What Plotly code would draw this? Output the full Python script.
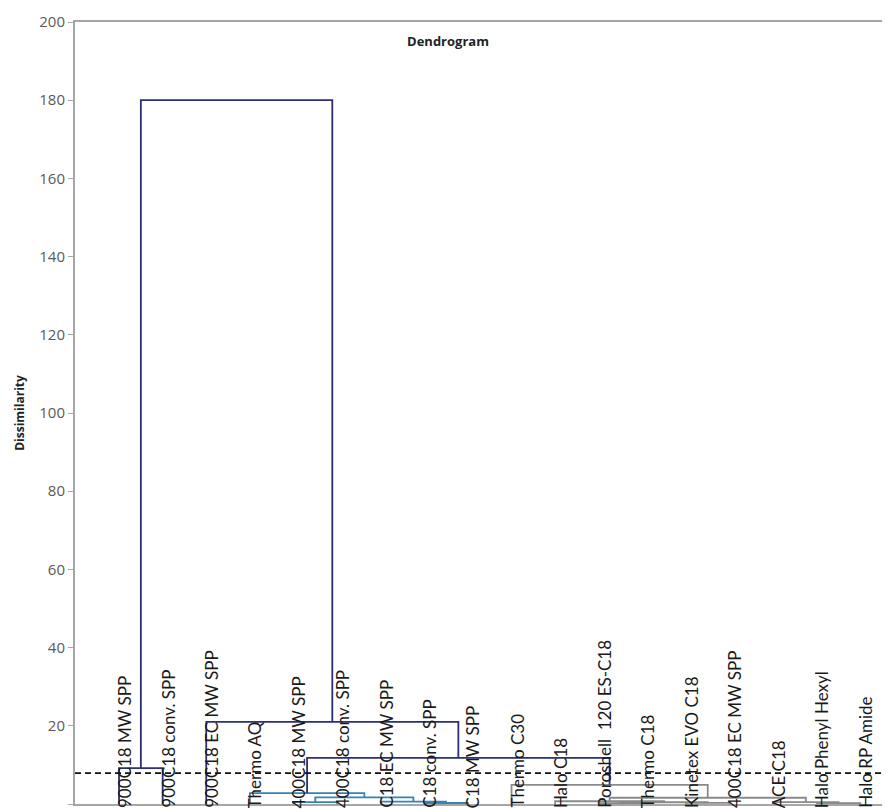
import plotly.graph_objects as go

# ---- data ----
leaf_labels = [
    "900C18 MW SPP", "900C18 conv. SPP", "900C18 EC MW SPP", "Thermo AQ",
    "400C18 MW SPP", "400C18 conv. SPP", "C18 EC MW SPP", "C18 conv. SPP",
    "C18 MW SPP", "Thermo C30", "Halo C18", "Poroshell  120 ES-C18",
    "Thermo C18", "Kinetex EVO C18", "400C18 EC MW SPP", "ACE C18",
    "Halo Phenyl Hexyl", "Halo RP Amide",
]
# merges (scipy-like): child ids < 18 are leaves, id 18+k is merge row k
merge_left = [4, 7, 6, 18, 3, 11, 13, 23, 10, 16, 15, 26, 9, 22, 2, 0, 33]
merge_right = [5, 8, 19, 20, 21, 12, 14, 24, 25, 17, 27, 28, 29, 30, 31, 1, 32]
merge_height = [0.5, 0.25, 0.6, 1.7, 2.8, 0.2, 0.3, 0.45, 0.7, 0.2, 0.5, 1.6, 4.9,
                11.8, 21.0, 9.2, 180.0]
merge_group = ["teal", "teal", "teal", "teal", "teal",
               "gray", "gray", "gray", "gray", "gray", "gray", "gray", "gray",
               "top", "top", "top", "top"]
cut_level = 7.9
y_ticks = [0, 20, 40, 60, 80, 100, 120, 140, 160, 180, 200]

colors = {"teal": "#3584b6", "gray": "#8a8a8a", "top": "#2b2f76"}

n = len(leaf_labels)
xpos = {i: float(i) for i in range(n)}
ypos = {i: 0.0 for i in range(n)}

fig = go.Figure()
for k, (a, b, h, g) in enumerate(zip(merge_left, merge_right, merge_height, merge_group)):
    xa, xb = xpos[a], xpos[b]
    fig.add_trace(go.Scatter(x=[xa, xa, xb, xb], y=[ypos[a], h, h, ypos[b]], mode="lines",
                             line=dict(color=colors[g], width=1.8),
                             hoverinfo="skip", showlegend=False))
    xpos[n + k] = (xa + xb) / 2
    ypos[n + k] = h

x_range = [-1.01, 17.68]
fig.add_trace(go.Scatter(x=x_range, y=[cut_level, cut_level], mode="lines",
                         line=dict(color="#111111", width=1.8, dash="6px,4px"),
                         hoverinfo="skip", showlegend=False))

for i, lab in enumerate(leaf_labels):
    fig.add_annotation(x=i, y=0, xref="x", yref="y", text=lab, showarrow=False,
                       textangle=-90, xanchor="center", yanchor="bottom",
                       xshift=5, yshift=-6,
                       font=dict(family="Lato", size=17, color="#1a1a1a"))

fig.update_layout(
    width=882, height=801,
    margin=dict(l=67, r=0, t=14, b=5),
    paper_bgcolor="white", plot_bgcolor="white",
    title=dict(text="<b>Dendrogram</b>", x=440 / 882, xref="container", xanchor="center",
               y=1 - 33 / 801, yref="container", yanchor="middle",
               font=dict(family="Open Sans", size=13, color="#222222")),
    xaxis=dict(range=x_range, showgrid=False, zeroline=False,
               showticklabels=False, ticks="", showline=True, mirror=True,
               linecolor="#a6a6a6", linewidth=2),
    yaxis=dict(range=[0, 200], tickvals=y_ticks, showgrid=False, zeroline=False,
               showline=True, mirror=False, linecolor="#a6a6a6", linewidth=2,
               ticks="outside", ticklen=5, tickcolor="#a6a6a6",
               tickfont=dict(family="Open Sans", size=15, color="#5a5a5a"),
               title=dict(text="<b>Dissimilarity</b>", standoff=12,
                          font=dict(family="Open Sans", size=12, color="#222222"))),
)

fig.write_html("out.html")
